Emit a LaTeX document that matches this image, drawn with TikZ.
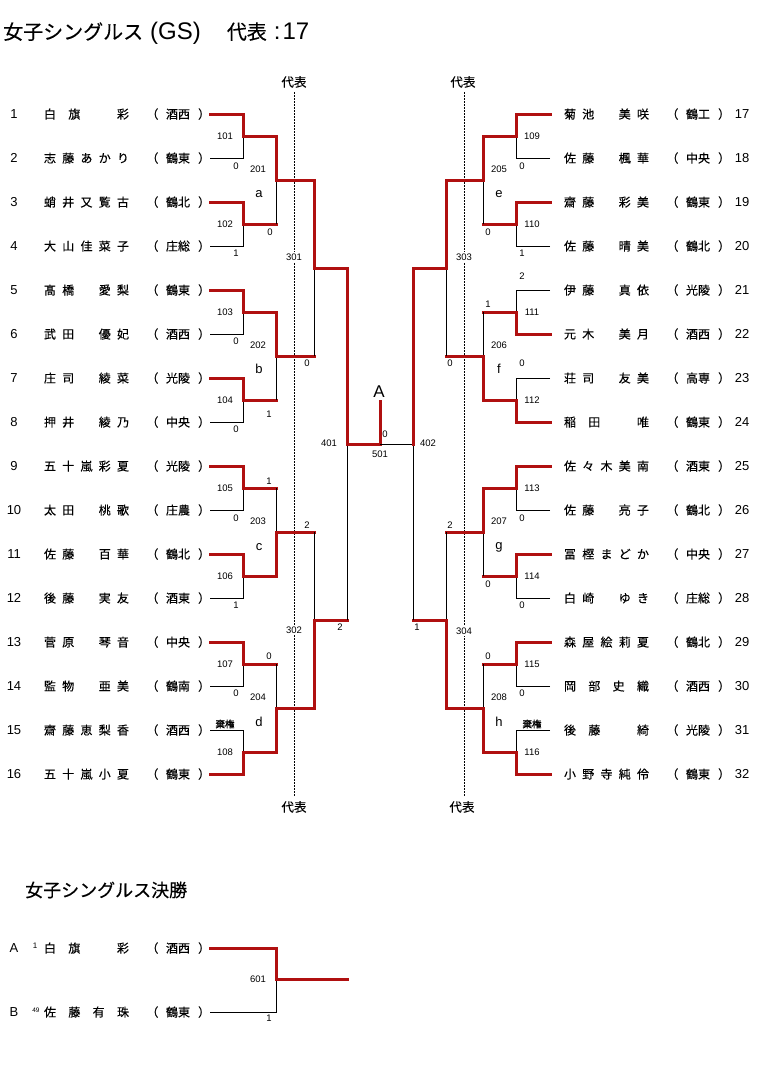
\documentclass[tikz,border=0pt]{standalone}
\usepackage{fontspec}
\setmainfont{Liberation Sans}
\newfontfamily\cjk[FakeBold=0.25]{Noto Sans CJK JP}
\newfontfamily\cjkb[FakeBold=1.2]{Noto Sans CJK JP}
\newfontfamily\lat{Liberation Sans}
\definecolor{dred}{RGB}{176,16,16}
\tikzset{
 rl/.style={draw=dred,line width=3pt,line cap=rect,line join=miter},
 bl/.style={draw=black,line width=0.9pt},
 dl/.style={draw=black,line width=0.9pt,dash pattern=on 1.5pt off 1.5pt},
 sc/.style={inner sep=0pt,font=\lat\fontsize{9.5}{10}\selectfont},
 num/.style={inner sep=0pt,font=\lat\fontsize{13}{14}\selectfont},
 nm/.style={inner sep=0pt,anchor=base,font=\cjk\fontsize{12}{13}\selectfont},
 lbl/.style={inner sep=0pt,font=\lat\fontsize{13}{14}\selectfont},
 rep/.style={inner sep=0pt,font=\cjk\fontsize{12.5}{13}\selectfont},
 kk/.style={inner sep=0pt,font=\cjkb\fontsize{9.5}{10}\selectfont},
 rnd/.style={sc,fill=white,inner sep=1.5pt},
}
\newcommand\ply[8]{% id, numx, num, y, n, chars, team, dx
 \node[num] (pn#1) at (#2,#4) {#3};
 \foreach \c [count=\i] in {#6} {\node[nm] (pc#1x\i) at ({#8+50+(\i-1)*73/(#5-1)},{#4+4.6}) {\c};}
 \node[nm] (po#1) at ({#8+152.4},{#4+4.6}) {（};
 \node[nm] (pt#1) at ({#8+178},{#4+4.6}) {#7};
 \node[nm] (pe#1) at ({#8+204.1},{#4+4.6}) {）};
}
\newcommand\mF[6]{% xs, xv, ytop, ybot, win, outx
 \pgfmathsetmacro\ym{(#3+#4)/2}
 \ifnum#5=1
  \draw[bl] (#1,#4)--(#2,#4)--(#2,\ym);
  \draw[rl] (#1,#3)--(#2,#3)--(#2,\ym)--(#6,\ym);
 \else
  \draw[bl] (#1,#3)--(#2,#3)--(#2,\ym);
  \draw[rl] (#1,#4)--(#2,#4)--(#2,\ym)--(#6,\ym);
 \fi}
\newcommand\mM[5]{% xv, ytop, ybot, win, outx
 \pgfmathsetmacro\ym{(#2+#3)/2}
 \ifnum#4=1
  \draw[bl] (#1,#3)--(#1,\ym);
  \draw[rl] (#1,#2)--(#1,\ym)--(#5,\ym);
 \else
  \draw[bl] (#1,#2)--(#1,\ym);
  \draw[rl] (#1,#3)--(#1,\ym)--(#5,\ym);
 \fi}
\begin{document}
\begin{tikzpicture}[x=1pt,y=-1pt]
\useasboundingbox[fill=white] (0,0) rectangle (759,1068);
% title
\node[anchor=west,inner sep=0pt] (title) at (3,33) {\cjk\fontsize{20}{22}\selectfont 女子シングルス\hspace{7pt}{\lat\fontsize{24}{26}\selectfont(GS)}\hspace{26pt}代表\hspace{7pt}{\lat\fontsize{24}{26}\selectfont :\hspace{2pt}17}};
% dotted representative lines
\draw[dl] (294,92) -- (294,797);
\draw[dl] (464,92) -- (464,797);
\node[rep] (rtl) at (294,82) {代表};
\node[rep] (rtr) at (463,82) {代表};
\node[rep] (rbl) at (294,807) {代表};
\node[rep] (rbr) at (462,807) {代表};
% players left
\ply{1}{14}{1}{114}{4}{白,旗,{},彩}{酒西}{0}
\ply{2}{14}{2}{158}{5}{志,藤,あ,か,り}{鶴東}{0}
\ply{3}{14}{3}{202}{5}{蛸,井,又,覧,古}{鶴北}{0}
\ply{4}{14}{4}{246}{5}{大,山,佳,菜,子}{庄総}{0}
\ply{5}{14}{5}{290}{5}{髙,橋,{},愛,梨}{鶴東}{0}
\ply{6}{14}{6}{334}{5}{武,田,{},優,妃}{酒西}{0}
\ply{7}{14}{7}{378}{5}{庄,司,{},綾,菜}{光陵}{0}
\ply{8}{14}{8}{422}{5}{押,井,{},綾,乃}{中央}{0}
\ply{9}{14}{9}{466}{5}{五,十,嵐,彩,夏}{光陵}{0}
\ply{10}{14}{10}{510}{5}{太,田,{},桃,歌}{庄農}{0}
\ply{11}{14}{11}{554}{5}{佐,藤,{},百,華}{鶴北}{0}
\ply{12}{14}{12}{598}{5}{後,藤,{},実,友}{酒東}{0}
\ply{13}{14}{13}{642}{5}{菅,原,{},琴,音}{中央}{0}
\ply{14}{14}{14}{686}{5}{監,物,{},亜,美}{鶴南}{0}
\ply{15}{14}{15}{730}{5}{齋,藤,恵,梨,香}{酒西}{0}
\ply{16}{14}{16}{774}{5}{五,十,嵐,小,夏}{鶴東}{0}
% players right
\ply{17}{742}{17}{114}{5}{菊,池,{},美,咲}{鶴工}{520}
\ply{18}{742}{18}{158}{5}{佐,藤,{},楓,華}{中央}{520}
\ply{19}{742}{19}{202}{5}{齋,藤,{},彩,美}{鶴東}{520}
\ply{20}{742}{20}{246}{5}{佐,藤,{},晴,美}{鶴北}{520}
\ply{21}{742}{21}{290}{5}{伊,藤,{},真,依}{光陵}{520}
\ply{22}{742}{22}{334}{5}{元,木,{},美,月}{酒西}{520}
\ply{23}{742}{23}{378}{5}{荘,司,{},友,美}{高専}{520}
\ply{24}{742}{24}{422}{4}{稲,田,{},唯}{鶴東}{520}
\ply{25}{742}{25}{466}{5}{佐,々,木,美,南}{酒東}{520}
\ply{26}{742}{26}{510}{5}{佐,藤,{},亮,子}{鶴北}{520}
\ply{27}{742}{27}{554}{5}{冨,樫,ま,ど,か}{中央}{520}
\ply{28}{742}{28}{598}{5}{白,崎,{},ゆ,き}{庄総}{520}
\ply{29}{742}{29}{642}{5}{森,屋,絵,莉,夏}{鶴北}{520}
\ply{30}{742}{30}{686}{4}{岡,部,史,織}{酒西}{520}
\ply{31}{742}{31}{730}{4}{後,藤,{},綺}{光陵}{520}
\ply{32}{742}{32}{774}{5}{小,野,寺,純,伶}{鶴東}{520}
% left bracket
\mF{210}{243}{114}{158}{1}{276}
\mF{210}{243}{202}{246}{1}{276}
\mF{210}{243}{290}{334}{1}{276}
\mF{210}{243}{378}{422}{1}{276}
\mF{210}{243}{466}{510}{1}{276}
\mF{210}{243}{554}{598}{1}{276}
\mF{210}{243}{642}{686}{1}{276}
\mF{210}{243}{730}{774}{0}{276}
\mM{276}{136}{224}{1}{314}
\mM{276}{312}{400}{1}{314}
\mM{276}{488}{576}{0}{314}
\mM{276}{664}{752}{0}{314}
\mM{314}{180}{356}{1}{347}
\mM{314}{532}{708}{0}{347}
\draw[bl] (347,620) -- (347,444);
\draw[rl] (347,268) -- (347,444) -- (380,444) -- (380,401);
% right bracket
\mF{550}{516}{114}{158}{1}{483}
\mF{550}{516}{202}{246}{1}{483}
\mF{550}{516}{290}{334}{0}{483}
\mF{550}{516}{378}{422}{0}{483}
\mF{550}{516}{466}{510}{1}{483}
\mF{550}{516}{554}{598}{1}{483}
\mF{550}{516}{642}{686}{1}{483}
\mF{550}{516}{730}{774}{0}{483}
\mM{483}{136}{224}{1}{446}
\mM{483}{312}{400}{0}{446}
\mM{483}{488}{576}{1}{446}
\mM{483}{664}{752}{0}{446}
\mM{446}{180}{356}{1}{413}
\mM{446}{532}{708}{0}{413}
\draw[bl] (413,620) -- (413,444) -- (380,444);
\draw[rl] (413,268) -- (413,444);
% match labels
\foreach \t/\y in {101/136,102/224,103/312,104/400,105/488,106/576,107/664,108/752}
  \node[sc] (m\t) at (225,\y) {\t};
\foreach \t/\y in {109/136,110/224,111/312,112/400,113/488,114/576,115/664,116/752}
  \node[sc] (m\t) at (532,\y) {\t};
\foreach \t/\y in {201/169,202/345,203/521,204/697}
  \node[sc] (m\t) at (258,\y) {\t};
\foreach \t/\y in {205/169,206/345,207/521,208/697}
  \node[sc] (m\t) at (499,\y) {\t};
\foreach \t/\y in {a/194,b/369,c/547,d/722}
  \node[lbl] (g\t) at (259,\y) {\t};
\foreach \t/\y in {e/194,f/369,g/547,h/722}
  \node[lbl] (g\t) at (499,\y) {\t};
\node[rnd] (m301) at (294,257) {301};
\node[rnd] (m302) at (294,630) {302};
\node[rnd] (m303) at (464,257) {303};
\node[rnd] (m304) at (464,631) {304};
\node[sc] (m401) at (329,443) {401};
\node[sc] (m402) at (428,443) {402};
\node[sc] (m501) at (380,454) {501};
\node[inner sep=0pt,font=\lat\fontsize{17}{18}\selectfont] (lA) at (379,392) {A};
\node[sc] (s501) at (385,434) {0};
% scores
\foreach \x/\y/\t [count=\k] in {236/166/0,270/232/0,236/253/1,236/341/0,269/414/1,236/429/0,307/363/0,269/481/1,236/518/0,307/525/2,236/605/1,340/627/2,269/656/0,236/693/0,
 522/166/0,488/232/0,522/253/1,522/276/2,488/304/1,450/363/0,522/363/0,522/518/0,450/525/2,488/584/0,522/605/0,417/627/1,488/656/0,522/693/0}
  \node[sc] (sc\k) at (\x,\y) {\t};
\node[kk] (kk1) at (225,724) {棄権};
\node[kk] (kk2) at (532,724) {棄権};
% final
\node[anchor=west,inner sep=0pt] (ftitle) at (25,890) {\cjk\fontsize{18}{20}\selectfont 女子シングルス決勝};
\ply{A}{14}{A}{948}{4}{白,旗,{},彩}{酒西}{0}
\ply{B}{14}{B}{1012}{4}{佐,藤,有,珠}{鶴東}{0}
\node[inner sep=0pt,font=\lat\fontsize{8}{9}\selectfont] (fa1) at (35,946) {1};
\node[inner sep=0pt,font=\lat\fontsize{6.5}{7}\selectfont] (fb49) at (36,1010) {49};
\draw[bl] (210,1012) -- (276,1012) -- (276,979);
\draw[rl] (210,948) -- (276,948) -- (276,979) -- (347,979);
\node[sc] (m601) at (258,979) {601};
\node[sc] (s601) at (269,1018) {1};
\end{tikzpicture}
\end{document}
